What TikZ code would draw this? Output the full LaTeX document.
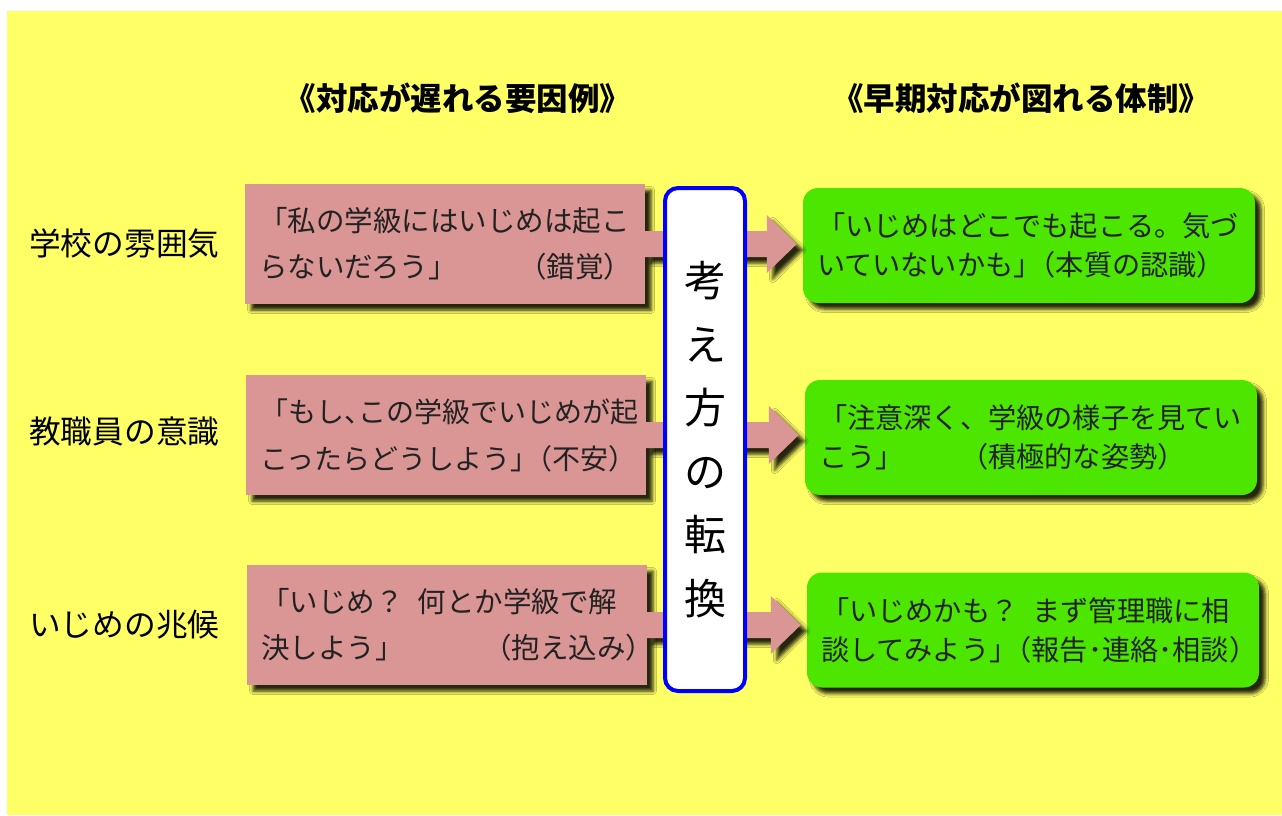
\documentclass[tikz,border=0pt]{standalone}
\usepackage{fontspec}
\setmainfont{Noto Sans CJK JP}
\usetikzlibrary{calc,shadows.blur}
\definecolor{bgy}{HTML}{FFFF66}
\definecolor{pinkc}{HTML}{D99694}
\definecolor{greenc}{HTML}{4DE600}
\definecolor{txt}{HTML}{222222}
\newcommand{\kk}{\kern-0.5em}
\tikzset{
  shad/.style={blur shadow={shadow xshift=6pt, shadow yshift=-6pt, shadow blur radius=3.5pt, shadow opacity=85}},
  pinkbox/.style={fill=pinkc, shad, minimum width=400pt, minimum height=120pt, inner sep=0pt,
    text width=372pt, align=left, font=\fontsize{28.5}{46}\selectfont, text=txt},
  greenbox/.style={fill=greenc, rounded corners=15pt, shad, minimum width=452pt, minimum height=115pt, inner sep=0pt,
    text width=424pt, align=left, font=\fontsize{28.2}{39}\selectfont, text=txt},
  header/.style={font=\fontsize{31.5}{36}\selectfont\bfseries, text=black, inner sep=0pt},
  rowlabel/.style={font=\fontsize{31.7}{36}\selectfont, text=black, inner sep=0pt, anchor=west},
  turnbox/.style={draw=blue, line width=4pt, fill=white, rounded corners=13pt, minimum width=80pt, minimum height=503pt,
    inner sep=0pt, align=center, font=\fontsize{42}{63.5}\selectfont, text=black},
  bigarrow/.style={fill=pinkc, shad}
}
\begin{document}
\begin{tikzpicture}[x=1pt,y=-1pt]
\useasboundingbox (0,0) rectangle (1282,815);
\fill[bgy] (7,11) rectangle (1282,815);

\node[header] (h1) at (458,98) {《対応が遅れる要因例》};
\node[header] (h2) at (1021,98) {《早期対応が図れる体制》};

\node[rowlabel] (l1) at (29,243) {学校の雰囲気};
\node[rowlabel] (l2) at (29,432) {教職員の意識};
\node[rowlabel] (l3) at (29,625) {いじめの兆候};

\node[pinkbox] (p1) at (445,244) {\mbox{「私の学級にはいじめは起こ}\\\mbox{らないだろう」\kern2.15em（錯覚）}};
\node[pinkbox, font=\fontsize{28}{47}\selectfont] (p2) at (446,435) {\mbox{「もし、\kk この学級でいじめが起}\\\mbox{こったらどうしよう」\kk（不安）}};
\node[pinkbox] (p3) at (447,625) {\mbox{「いじめ？\kern0.5em 何とか学級で解}\\\mbox{決しよう」\kern2.8em（抱え込み）}};

\node[greenbox] (g1) at (1029,245.5) {\mbox{「いじめはどこでも起こる。気づ}\\\mbox{いていないかも」\kk（本質の認識）}};
\node[greenbox] (g2) at (1031,437.5) {\mbox{「注意深く、学級の様子を見てい}\\\mbox{こう」\kern2em（積極的な姿勢）}};
\node[greenbox] (g3) at (1033,630) {\mbox{「いじめかも？\kern0.5em まず管理職に相}\\\mbox{談してみよう」\kk（報告･連絡･相談）}};

\foreach \p/\g in {p1/g1,p2/g2,p3/g3}{
  \fill[bigarrow] ($(\p.east)+(-1,-13)$) -- ($(\p.east -| \g.west)+(-36,-13)$)
    -- ($(\p.east -| \g.west)+(-36,-29)$) -- ($(\p.east -| \g.west)+(-6,0)$)
    -- ($(\p.east -| \g.west)+(-36,29)$) -- ($(\p.east -| \g.west)+(-36,13)$)
    -- ($(\p.east)+(-1,13)$) -- cycle;
}

\node[turnbox] (t) at (705,439.5) {考\\え\\方\\の\\転\\換};
\end{tikzpicture}
\end{document}
